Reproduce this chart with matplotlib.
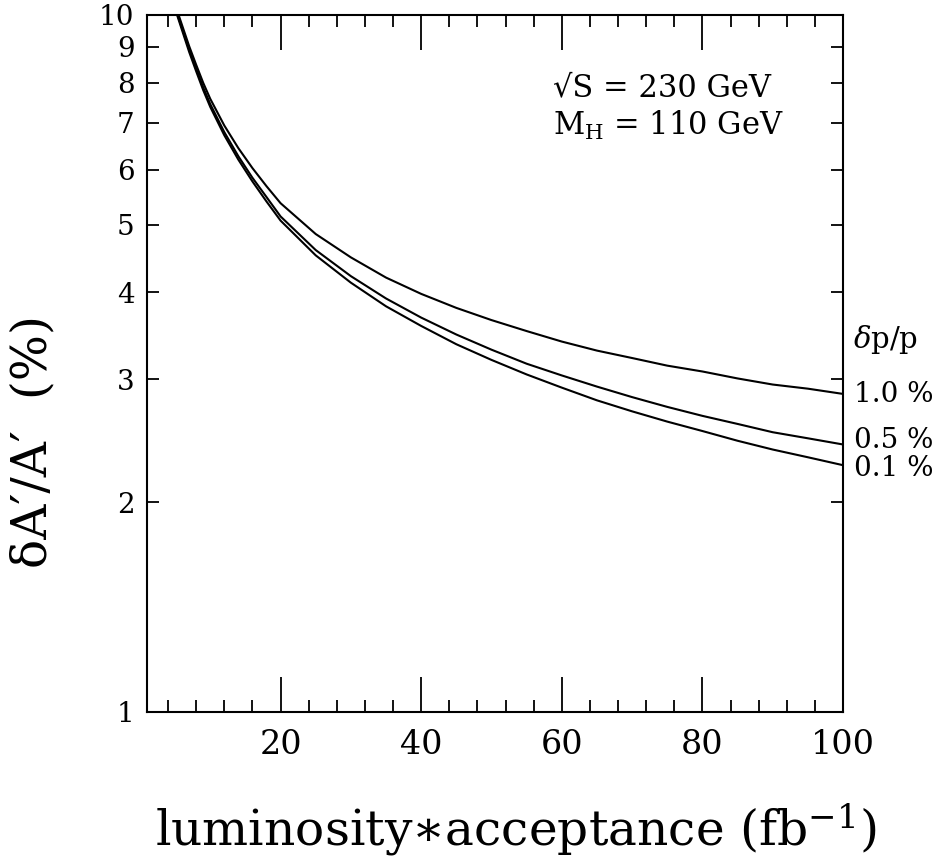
import numpy as np
import matplotlib
matplotlib.use("Agg")
import matplotlib.pyplot as plt
from matplotlib.ticker import FixedLocator, NullLocator, FixedFormatter

plt.rcParams['font.family'] = ['DejaVu Serif']
plt.rcParams['mathtext.fontset'] = 'dejavuserif'

# luminosity*acceptance (fb^-1)
lumi = [4.5, 5, 6, 7, 8, 9, 10, 12, 14, 16, 18, 20, 25, 30, 35, 40, 45, 50,
        55, 60, 65, 70, 75, 80, 85, 90, 95, 100]

# dA'/A' (%) for the three momentum resolutions
err_01 = [10.9, 10.2, 9.5, 8.85, 8.3, 7.8, 7.38, 6.72, 6.2, 5.77, 5.4, 5.07,
          4.52, 4.13, 3.82, 3.58, 3.37, 3.2, 3.05, 2.92, 2.8, 2.7, 2.61, 2.53,
          2.45, 2.38, 2.32, 2.26]
err_05 = [10.95, 10.25, 9.56, 8.92, 8.37, 7.87, 7.45, 6.79, 6.27, 5.84, 5.48,
          5.14, 4.6, 4.22, 3.92, 3.68, 3.48, 3.31, 3.16, 3.04, 2.93, 2.83,
          2.74, 2.66, 2.59, 2.52, 2.47, 2.42]
err_10 = [11.05, 10.35, 9.66, 9.02, 8.48, 7.99, 7.58, 6.94, 6.44, 6.03, 5.68,
          5.37, 4.85, 4.49, 4.2, 3.98, 3.8, 3.65, 3.52, 3.4, 3.3, 3.22, 3.14,
          3.08, 3.01, 2.95, 2.91, 2.86]

series = [(err_10, "1.0 %"), (err_05, "0.5 %"), (err_01, "0.1 %")]
label_y = [0.4555, 0.389, 0.35]

fig = plt.figure(figsize=(9.43, 8.6), dpi=100)
ax = fig.add_axes([147 / 943, 1 - 712 / 860, 696 / 943, 697 / 860])

for (vals, lab), ly in zip(series, label_y):
    ax.plot(lumi, vals, color="black", lw=1.5)
    ax.text(1.016, ly, lab, transform=ax.transAxes, fontsize=20,
            va="center", ha="left")
ax.text(1.014, 0.534, r"$\delta$p/p", transform=ax.transAxes, fontsize=21,
        va="center", ha="left")

ax.set_yscale("log")
ax.set_xlim(1, 100)
ax.set_ylim(1, 10)

ax.xaxis.set_major_locator(FixedLocator([20, 40, 60, 80, 100]))
ax.xaxis.set_minor_locator(FixedLocator(np.arange(4, 100, 4)))
yt = list(range(1, 11))
ax.yaxis.set_major_locator(FixedLocator(yt))
ax.yaxis.set_major_formatter(FixedFormatter([str(v) for v in yt]))
ax.yaxis.set_minor_locator(NullLocator())

ax.tick_params(axis="x", which="major", direction="in", top=True,
               length=25, width=1.3, labelsize=24, pad=12)
ax.tick_params(axis="x", which="minor", direction="in", top=True,
               length=8.6, width=1.3)
ax.tick_params(axis="y", which="major", direction="in", right=True,
               length=8.6, width=1.3, labelsize=20, pad=9)
for s in ax.spines.values():
    s.set_linewidth(1.5)

ax.text(0.583, 0.895, "\u221aS = 230 GeV", transform=ax.transAxes,
        fontsize=22, va="center", ha="left")
ax.text(0.583, 0.841, r"M$_{\rm H}$ = 110 GeV", transform=ax.transAxes,
        fontsize=22, va="center", ha="left")

fig.text(516 / 943, 1 - 830 / 860, "luminosity\u2217acceptance (fb$^{-1}$)",
         fontsize=35, ha="center", va="center")
fig.text(33 / 943, 1 - 442 / 860, "\u03b4A\u2032/A\u2032  (%)", fontsize=35,
         rotation=90, ha="center", va="center")

fig.savefig("out.png", dpi=100)
